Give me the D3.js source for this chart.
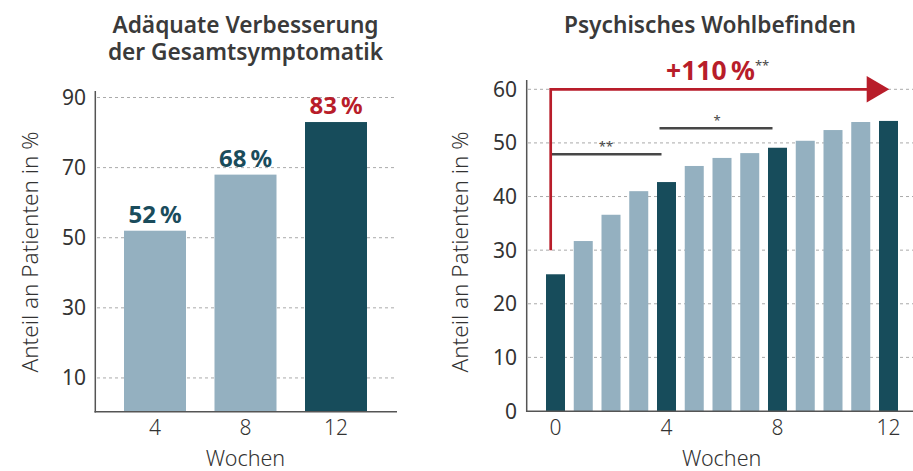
<!DOCTYPE html>
<html>
<head>
<meta charset="utf-8">
<script src="https://cdn.jsdelivr.net/npm/d3@7"></script>
<style>
  body { margin: 0; background: #fff; }
  svg { display: block; font-family: "Noto Sans", sans-serif; }
</style>
</head>
<body>
<div id="chart"></div>
<script>
// left chart: adequate improvement
const weeksLeft = ["4", "8", "12"]
const valuesLeft = [52, 68, 83]
const labelsLeft = ["52\u2009%", "68\u2009%", "83\u2009%"]
const ticksLeft = [10, 30, 50, 70, 90]

// right chart: psychological well-being
const weeksRight = [0, 1, 2, 3, 4, 5, 6, 7, 8, 9, 10, 11, 12]
const valuesRight = [25.5, 31.7, 36.6, 41, 42.7, 45.7, 47.2, 48.1, 49.1, 50.4, 52.4, 53.9, 54.1]
const highlightRight = [0, 4, 8, 12]
const ticksRight = [0, 10, 20, 30, 40, 50, 60]
const tickWeeksRight = [0, 4, 8, 12]
const brackets = [
  { from: 0, to: 4, label: "**" },
  { from: 4, to: 8, label: "*" }
]

const light = "#94b0c0"
const dark = "#174c5b"
const red = "#b81d2a"
const textCol = "#333"
const axisCol = "#555"

const svg = d3.select("#chart")
  .append("svg")
  .attr("width", 913)
  .attr("height", 471)

function grid(g, y, ticks, x0, x1) {
  g.selectAll(".grid")
    .data(ticks).enter().append("line")
    .attr("x1", x0).attr("x2", x1)
    .attr("y1", d => y(d)).attr("y2", d => y(d))
    .attr("stroke", "#aaa")
    .attr("stroke-width", 1)
    .attr("stroke-dasharray", "3,3")
}

function yLabels(g, y, ticks, xr) {
  g.selectAll(".ytick")
    .data(ticks).enter().append("text")
    .attr("x", xr)
    .attr("y", d => y(d) + 7.5)
    .attr("text-anchor", "end")
    .attr("font-size", 21)
    .attr("fill", textCol)
    .text(d => d)
}

function titles(g, lines, cx, xTitleX, yTitleX) {
  g.selectAll(".title")
    .data(lines).enter().append("text")
    .attr("x", cx)
    .attr("y", (d, i) => 33 + i * 27)
    .attr("text-anchor", "middle")
    .attr("font-size", 22.7)
    .attr("font-weight", 600)
    .attr("fill", "#3a3a3a")
    .text(d => d)

  g.append("text")
    .attr("x", xTitleX).attr("y", 465.5)
    .attr("text-anchor", "middle")
    .attr("font-size", 21.5)
    .attr("font-weight", 300)
    .attr("fill", textCol)
    .text("Wochen")

  g.append("text")
    .attr("transform", `translate(${yTitleX},252) rotate(-90)`)
    .attr("text-anchor", "middle")
    .attr("font-size", 22.5)
    .attr("font-weight", 300)
    .attr("fill", textCol)
    .text("Anteil an Patienten in %")
}

// ---- left chart ----
const left = svg.append("g")
const xL = d3.scalePoint().domain(weeksLeft).range([155, 336])
const yL = d3.scaleLinear().domain([0, 90]).range([413, 97.5])
const barWL = 62

grid(left, yL, ticksLeft, 97, 397)

left.selectAll(".bar")
  .data(valuesLeft).enter().append("rect")
  .attr("x", (d, i) => xL(weeksLeft[i]) - barWL / 2)
  .attr("y", d => yL(d))
  .attr("width", barWL)
  .attr("height", d => 412 - yL(d))
  .attr("fill", (d, i) => i == valuesLeft.length - 1 ? dark : light)

left.selectAll(".blabel")
  .data(valuesLeft).enter().append("text")
  .attr("x", (d, i) => xL(weeksLeft[i]))
  .attr("y", d => yL(d) - 8)
  .attr("text-anchor", "middle")
  .attr("font-size", 24)
  .attr("font-weight", 700)
  .attr("fill", (d, i) => i == valuesLeft.length - 1 ? red : "#1a4c5c")
  .text((d, i) => labelsLeft[i])

left.append("line")
  .attr("x1", 95.3).attr("x2", 95.3).attr("y1", 91).attr("y2", 412.5)
  .attr("stroke", axisCol).attr("stroke-width", 1.5)
left.append("line")
  .attr("x1", 94.5).attr("x2", 397).attr("y1", 411.8).attr("y2", 411.8)
  .attr("stroke", axisCol).attr("stroke-width", 1.5)

yLabels(left, yL, ticksLeft, 86)

left.selectAll(".xtick")
  .data(weeksLeft).enter().append("text")
  .attr("x", d => xL(d))
  .attr("y", 435)
  .attr("text-anchor", "middle")
  .attr("font-size", 21)
  .attr("font-weight", 300)
  .attr("fill", textCol)
  .text(d => d)

titles(left, ["Adäquate Verbesserung", "der Gesamtsymptomatik"], 245.5, 245.5, 38)

// ---- right chart ----
const right = svg.append("g")
const xR = d3.scalePoint().domain(weeksRight).range([555.5, 888.5])
const yR = d3.scaleLinear().domain([0, 60]).range([411, 89.3])
const barWR = 19

grid(right, yR, ticksRight.slice(1), 528, 913)

right.selectAll(".bar")
  .data(valuesRight).enter().append("rect")
  .attr("x", (d, i) => xR(weeksRight[i]) - barWR / 2)
  .attr("y", d => yR(d))
  .attr("width", barWR)
  .attr("height", d => yR(0) - yR(d))
  .attr("fill", (d, i) => highlightRight.includes(weeksRight[i]) ? dark : light)

// significance brackets
right.selectAll(".bracket")
  .data(brackets).enter().append("line")
  .attr("x1", (d, i) => xR(d.from) - (i == 0 ? 4 : 7))
  .attr("x2", d => xR(d.to) - 5)
  .attr("y1", (d, i) => i == 0 ? 154.3 : 128.3)
  .attr("y2", (d, i) => i == 0 ? 154.3 : 128.3)
  .attr("stroke", "#474747")
  .attr("stroke-width", 2.6)

right.selectAll(".blabel")
  .data(brackets).enter().append("text")
  .attr("x", d => (xR(d.from) + xR(d.to)) / 2 - 5)
  .attr("y", (d, i) => i == 0 ? 151 : 124.5)
  .attr("text-anchor", "middle")
  .attr("font-size", 13)
  .attr("fill", "#474747")
  .text(d => d.label)

// red arrow from week 0 level to week 12
const arrowY = yR(60)
right.append("path")
  .attr("d", `M${xR(0) - 4.8},${yR(30)} V${arrowY} H${868}`)
  .attr("fill", "none")
  .attr("stroke", red)
  .attr("stroke-width", 2.7)
right.append("path")
  .attr("d", `M866.7,${arrowY - 13.3} L889.3,${arrowY} L866.7,${arrowY + 13.3} Z`)
  .attr("fill", red)

const pct = right.append("text")
  .attr("x", 666)
  .attr("y", 80)
  .attr("font-size", 26.5)
  .attr("font-weight", 700)
  .attr("fill", red)
pct.append("tspan").text("+110\u2009%")
pct.append("tspan")
  .attr("dy", -10)
  .attr("font-size", 13)
  .attr("font-weight", 400)
  .attr("fill", "#474747")
  .text("**")

right.append("line")
  .attr("x1", 526.7).attr("x2", 526.7).attr("y1", 80).attr("y2", 412)
  .attr("stroke", axisCol).attr("stroke-width", 1.5)
right.append("line")
  .attr("x1", 526).attr("x2", 913).attr("y1", 411.3).attr("y2", 411.3)
  .attr("stroke", axisCol).attr("stroke-width", 1.5)

yLabels(right, yR, ticksRight, 517)

right.selectAll(".xtick")
  .data(tickWeeksRight).enter().append("text")
  .attr("x", d => xR(d))
  .attr("y", 435)
  .attr("text-anchor", "middle")
  .attr("font-size", 21)
  .attr("font-weight", 300)
  .attr("fill", textCol)
  .text(d => d)

titles(right, ["Psychisches Wohlbefinden"], 710, 721.7, 468)
</script>
</body>
</html>
